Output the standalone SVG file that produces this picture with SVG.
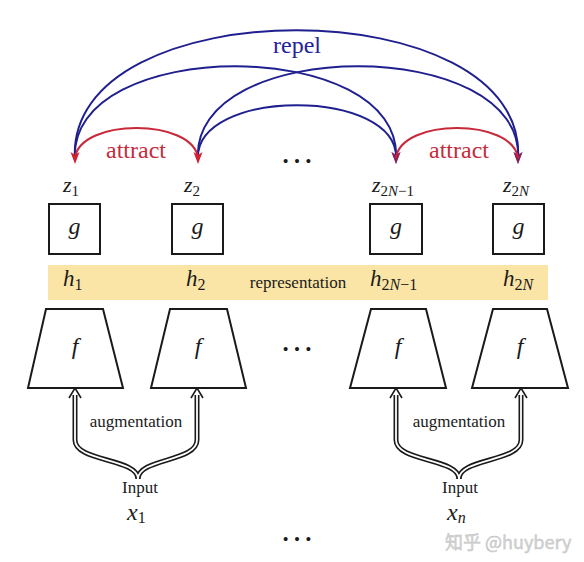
<svg xmlns="http://www.w3.org/2000/svg" width="584" height="562" viewBox="0 0 584 562">
<style>
.bg{fill:#ffffff}
.box{fill:#ffffff;stroke:#1a1a1a;stroke-width:2}
.band{fill:#fbe5a6}
.math{font-family:"Liberation Serif",serif;font-style:italic;fill:#1a1a1a}
.rm{font-family:"Liberation Serif",serif;font-style:normal;fill:#1a1a1a}
.blue{fill:none;stroke:#1f1f8f;stroke-width:2}
.red{fill:none;stroke:#c8283a;stroke-width:2}
.redhead{fill:#d3202f}
.bluehead{fill:#1f1f8f}
.dblo{fill:none;stroke:#1a1a1a;stroke-width:5}
.dbli{fill:none;stroke:#ffffff;stroke-width:1.8}
.chev{fill:none;stroke:#1a1a1a;stroke-width:1.6;stroke-linejoin:miter}
.dots{font-family:"Liberation Serif",serif;font-size:34px;fill:#1a1a1a}
</style>
<rect class="bg" x="0" y="0" width="584" height="562"/>

<g id="band">
<rect class="band" x="48" y="265" width="500" height="35"/>
<text class="rm" x="298" y="288" font-size="17" text-anchor="middle">representation</text>
</g>

<g id="connectors">
<path class="blue" d="M75,160 C63,-13 530,-13 518,160"/>
<path class="blue" d="M75,160 C66,35 405,35 396,160"/>
<path class="blue" d="M198,160 C189,35 527,35 518,160"/>
<path class="blue" d="M198,160 C193,87 401,87 396,160"/>
<polygon class="bluehead" points="391.5,152 396,155 400.5,152 396,164"/>
<polygon class="bluehead" points="513.5,152 518,155 522.5,152 518,164"/>
<path class="red" d="M75,158 C80,118 193,118 198,158"/>
<path class="red" d="M396,158 C401,118 513,118 518,158"/>
<polygon class="redhead" points="70.5,152 75,155 79.5,152 75,164"/>
<polygon class="redhead" points="193.5,152 198,155 202.5,152 198,164"/>
<polygon class="redhead" points="391.5,152 396,155 400.5,152 396,164" opacity="0.6"/>
<polygon class="redhead" points="513.5,152 518,155 522.5,152 518,164" opacity="0.6"/>
<text x="297" y="53" font-family="Liberation Serif, serif" font-size="24" fill="#23239a" text-anchor="middle">repel</text>
<text x="136" y="158" font-family="Liberation Serif, serif" font-size="24" fill="#c42c3e" text-anchor="middle">attract</text>
<text x="459" y="158" font-family="Liberation Serif, serif" font-size="24" fill="#c42c3e" text-anchor="middle">attract</text>

<path class="dblo" d="M75,395 L75,440 C75,462 138,458 138,479"/>
<path class="dblo" d="M197,395 L197,440 C197,462 138,458 138,479"/>
<path class="dbli" d="M75,393 L75,440 C75,462 138,458 138,479"/>
<path class="dbli" d="M197,393 L197,440 C197,462 138,458 138,479"/>
<polyline class="chev" points="69,398 75,388 81,398"/>
<polyline class="chev" points="191,398 197,388 203,398"/>

<path class="dblo" d="M396,395 L396,440 C396,462 459,458 459,479"/>
<path class="dblo" d="M521,395 L521,440 C521,462 459,458 459,479"/>
<path class="dbli" d="M396,393 L396,440 C396,462 459,458 459,479"/>
<path class="dbli" d="M521,393 L521,440 C521,462 459,458 459,479"/>
<polyline class="chev" points="390,398 396,388 402,398"/>
<polyline class="chev" points="515,398 521,388 527,398"/>
<text class="rm" x="136" y="427" font-size="17" text-anchor="middle">augmentation</text>
<text class="rm" x="459" y="427" font-size="17" text-anchor="middle">augmentation</text>
</g>

<g id="z1"><text class="math" x="63" y="192" font-size="22">z<tspan class="rm" font-size="15" dy="4">1</tspan></text></g>
<g id="z2"><text class="math" x="184" y="192" font-size="22">z<tspan class="rm" font-size="15" dy="4">2</tspan></text></g>
<g id="z2N-1"><text class="math" x="372" y="192" font-size="22">z<tspan class="rm" font-size="15" dy="4">2</tspan><tspan font-size="15">N</tspan><tspan class="rm" font-size="15">−1</tspan></text></g>
<g id="z2N"><text class="math" x="503" y="192" font-size="22">z<tspan class="rm" font-size="15" dy="4">2</tspan><tspan font-size="15">N</tspan></text></g>

<g id="g1"><rect class="box" x="49" y="204" width="51" height="50"/><text class="math" x="74.5" y="234" font-size="24" text-anchor="middle">g</text></g>
<g id="g2"><rect class="box" x="172" y="204" width="51" height="50"/><text class="math" x="197.5" y="234" font-size="24" text-anchor="middle">g</text></g>
<g id="g3"><rect class="box" x="370" y="204" width="52" height="50"/><text class="math" x="396" y="234" font-size="24" text-anchor="middle">g</text></g>
<g id="g4"><rect class="box" x="493" y="204" width="51" height="50"/><text class="math" x="518.5" y="234" font-size="24" text-anchor="middle">g</text></g>

<g id="h1"><text class="math" x="63" y="286" font-size="23">h<tspan class="rm" font-size="16" dy="4">1</tspan></text></g>
<g id="h2"><text class="math" x="186" y="286" font-size="23">h<tspan class="rm" font-size="16" dy="4">2</tspan></text></g>
<g id="h2N-1"><text class="math" x="370" y="286" font-size="23">h<tspan class="rm" font-size="16" dy="4">2</tspan><tspan font-size="16">N</tspan><tspan class="rm" font-size="16">−1</tspan></text></g>
<g id="h2N"><text class="math" x="503" y="286" font-size="23">h<tspan class="rm" font-size="16" dy="4">2</tspan><tspan font-size="16">N</tspan></text></g>

<g id="f1"><polygon class="box" points="46,309 103,309 123,388 28,388"/><text class="math" x="75" y="354" font-size="24" text-anchor="middle">f</text></g>
<g id="f2"><polygon class="box" points="170,309 227,309 246,388 151,388"/><text class="math" x="198" y="354" font-size="24" text-anchor="middle">f</text></g>
<g id="f3"><polygon class="box" points="371,309 426,309 446,388 350,388"/><text class="math" x="398" y="354" font-size="24" text-anchor="middle">f</text></g>
<g id="f4"><polygon class="box" points="493,309 547,309 568,388 472,388"/><text class="math" x="520" y="354" font-size="24" text-anchor="middle">f</text></g>

<g id="x1">
<text class="rm" x="140" y="493" font-size="17" text-anchor="middle">Input</text>
<text class="math" x="127" y="520" font-size="24">x<tspan class="rm" font-size="16" dy="3">1</tspan></text>
</g>
<g id="xn">
<text class="rm" x="460" y="493" font-size="17" text-anchor="middle">Input</text>
<text class="math" x="447" y="520" font-size="24">x<tspan font-size="16" dy="3">n</tspan></text>
</g>

<g id="ellipses">
<text class="dots" x="297" y="163" text-anchor="middle">…</text>
<text class="dots" x="297" y="351" text-anchor="middle">…</text>
<text class="dots" x="297" y="541" text-anchor="middle">…</text>
</g>

<g id="watermark">
<text x="445" y="549" font-family="'Noto Sans CJK SC', 'Noto Sans', sans-serif" font-size="18" fill="#d4d4d4" stroke="#bdbdbd" stroke-width="0.4">知乎 @huybery</text>
</g>
</svg>
